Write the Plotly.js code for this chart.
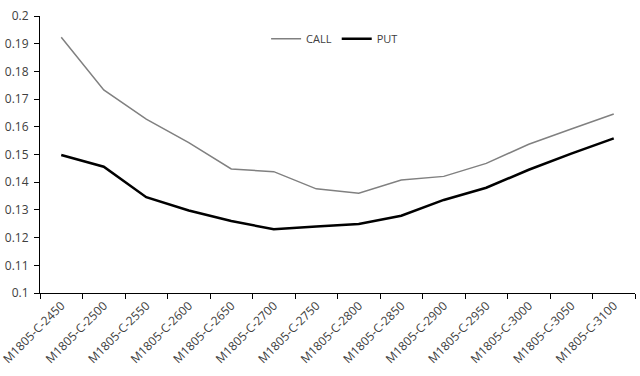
<!DOCTYPE html>
<html>
<head>
<meta charset="utf-8">
<script src="https://cdn.plot.ly/plotly-3.0.1.min.js"></script>
<style>html,body{margin:0;padding:0;background:#fff}#chart{width:640px;height:376px}</style>
</head>
<body>
<div id="chart"></div>
<script>
const categories = ["M1805-C-2450","M1805-C-2500","M1805-C-2550","M1805-C-2600","M1805-C-2650","M1805-C-2700","M1805-C-2750","M1805-C-2800","M1805-C-2850","M1805-C-2900","M1805-C-2950","M1805-C-3000","M1805-C-3050","M1805-C-3100"];
const callValues = [0.1923, 0.1733, 0.1628, 0.1543, 0.1448, 0.1438, 0.1376, 0.1360, 0.1408, 0.1421, 0.1468, 0.1537, 0.1592, 0.1646];
const putValues = [0.1498, 0.1456, 0.1346, 0.1298, 0.1260, 0.1230, 0.1240, 0.1249, 0.1279, 0.1336, 0.1380, 0.1445, 0.1503, 0.1558];
const yTickVals = [0.1, 0.11, 0.12, 0.13, 0.14, 0.15, 0.16, 0.17, 0.18, 0.19, 0.2];
const yTickText = ["0.1","0.11","0.12","0.13","0.14","0.15","0.16","0.17","0.18","0.19","0.2"];

const traces = [
  {x: categories, y: callValues, name: "CALL", type: "scatter", mode: "lines",
   line: {color: "#808080", width: 1.5}},
  {x: categories, y: putValues, name: "PUT", type: "scatter", mode: "lines",
   line: {color: "#000000", width: 2.5}}
];
const layout = {
  width: 640, height: 376,
  margin: {l: 40, r: 5, t: 16, b: 83},
  paper_bgcolor: "#fff", plot_bgcolor: "#fff",
  font: {family: "Open Sans, Liberation Sans, sans-serif", size: 12, color: "#404040"},
  showlegend: true,
  legend: {orientation: "h", x: 0.38, y: 0.918, xanchor: "left", yanchor: "middle",
           font: {size: 11, color: "#404040"}, bgcolor: "rgba(0,0,0,0)", tracegroupgap: 0},
  xaxis: {type: "category", range: [-0.5, 13.5], tickangle: -45, tickson: "boundaries",
          ticks: "outside", ticklen: 5, tickcolor: "#000", showline: true, linecolor: "#000",
          linewidth: 1, showgrid: false, zeroline: false, fixedrange: true,
          tickfont: {size: 12, color: "#404040"}},
  yaxis: {range: [0.1, 0.2], tickvals: yTickVals, ticktext: yTickText, ticks: "outside",
          ticklen: 5, tickcolor: "#000", showline: true, linecolor: "#000", linewidth: 1,
          showgrid: false, zeroline: false, fixedrange: true, ticklabelstandoff: 3,
          tickfont: {size: 12, color: "#404040"}}
};
Plotly.newPlot("chart", traces, layout, {displayModeBar: false, staticPlot: true});
</script>
</body>
</html>
